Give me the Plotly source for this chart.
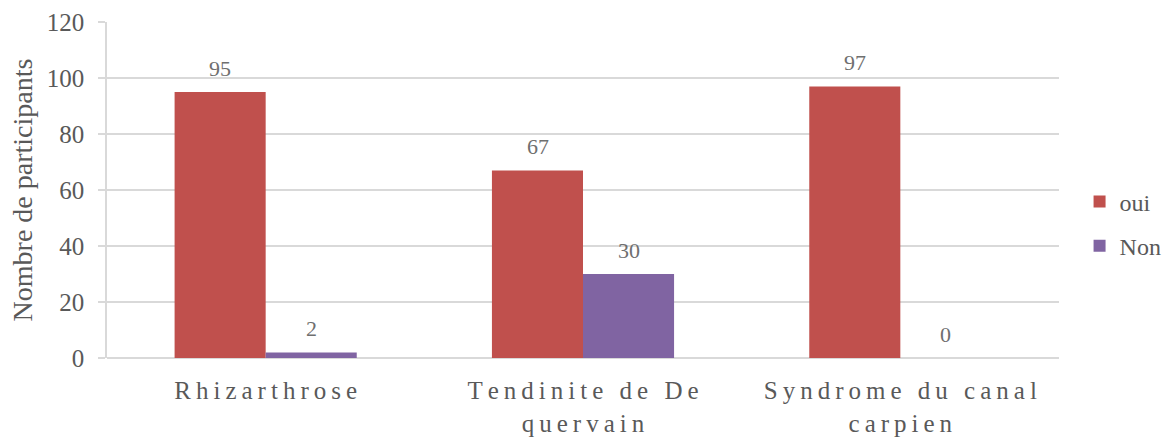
import plotly.graph_objects as go

categories = ["Rhizarthrose", "Tendinite de De quervain", "Syndrome du canal carpien"]
tick_labels = ["Rhizarthrose", "Tendinite de De<br>quervain", "Syndrome du canal<br>carpien"]
oui = [95, 67, 97]
non = [2, 30, 0]
y_ticks = [0, 20, 40, 60, 80, 100, 120]

SP = "\u2009"


def spaced(s):
    parts = s.split("<br>")
    return "<br>".join(SP.join(list(p)) for p in parts)


FONT = "Liberation Serif"
GRAY = "#595959"
GRID = "#d9d9d9"

fig = go.Figure()
fig.add_trace(go.Bar(x=categories, y=oui, name="oui", legendgroup="a",
                     marker=dict(color="#C0504D", line=dict(width=0))))
fig.add_trace(go.Bar(x=categories, y=non, name="Non", legendgroup="b",
                     marker=dict(color="#8064A2", line=dict(width=0))))

# value labels
for vals, shift in ((oui, -45.5), (non, 45.5)):
    for c, v in zip(categories, vals):
        fig.add_annotation(x=c, y=v, text=str(v), showarrow=False, xref="x", yref="y",
                           xshift=shift, yshift=24, font=dict(family=FONT, size=22, color="#6f6f6f"))

fig.update_layout(
    width=1163, height=437,
    margin=dict(l=107, r=104, t=22, b=79, autoexpand=False),
    paper_bgcolor="white", plot_bgcolor="white",
    barmode="group", bargap=0.426, bargroupgap=0,
    font=dict(family=FONT, color=GRAY),
    legend=dict(x=1.0216, y=0.399, xanchor="left", yanchor="middle",
                font=dict(family=FONT, size=24, color=GRAY),
                tracegroupgap=10, itemwidth=30),
    showlegend=True,
)
fig.update_xaxes(
    tickmode="array", tickvals=categories, ticktext=[spaced(t) for t in tick_labels],
    tickfont=dict(family=FONT, size=25, color=GRAY),
    showline=False, showgrid=False, ticks="", ticklabelstandoff=15, automargin=False,
)
fig.update_yaxes(
    range=[0, 120], tickvals=y_ticks,
    tickfont=dict(family=FONT, size=25, color=GRAY),
    showgrid=True, gridcolor=GRID, gridwidth=1.5,
    showline=True, linecolor=GRID, linewidth=1.5,
    ticks="outside", ticklen=7, tickcolor=GRID, tickwidth=1.5, ticklabelstandoff=9,
    zeroline=True, zerolinecolor=GRID, zerolinewidth=1.5, automargin=False,
    title=dict(text="Nombre de participants", font=dict(family=FONT, size=28, color=GRAY), standoff=6),
)

fig.write_html("out.html", post_script="document.body.style.margin='0';",
               config={"displayModeBar": False})
